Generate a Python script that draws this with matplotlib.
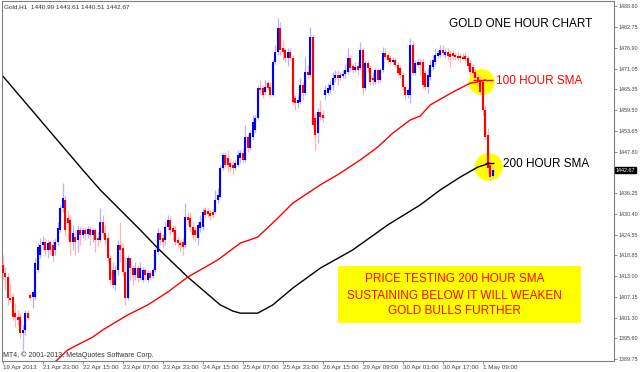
import numpy as np
import matplotlib
matplotlib.use("Agg")
import matplotlib.pyplot as plt
from matplotlib.patches import Ellipse, Rectangle
from matplotlib.transforms import blended_transform_factory

plt.rcParams["font.family"] = ["Liberation Sans", "DejaVu Sans"]

# Gold H1 bars, 19 Apr 2013 -> 1 May 2013
opens = [
    1416.1, 1413.8, 1412.7, 1406.9, 1407.1, 1402.6, 1401.5, 1401.5, 1397.0, 1397.9,
    1402.6, 1407.7, 1407.1, 1407.1, 1414.7, 1418.9, 1421.7, 1422.5, 1420.3, 1422.5,
    1421.7, 1420.3, 1422.5, 1425.9, 1432.0, 1434.3, 1429.2, 1428.7, 1422.5, 1423.9,
    1423.1, 1425.9, 1424.5, 1425.9, 1424.8, 1426.2, 1424.5, 1425.9, 1423.6, 1423.1,
    1428.1, 1425.0, 1423.6, 1418.0, 1414.7, 1410.5, 1414.7, 1421.7, 1420.8, 1414.1,
    1406.9, 1418.0, 1415.2, 1413.3, 1415.2, 1412.4, 1411.9, 1414.7, 1411.9, 1413.8,
    1413.0, 1414.7, 1419.7, 1425.0, 1423.6, 1423.1, 1426.7, 1428.7, 1426.4, 1425.9,
    1423.1, 1422.2, 1422.5, 1421.7, 1429.5, 1429.2, 1426.7, 1425.9, 1423.6, 1426.4,
    1426.7, 1431.5, 1431.2, 1430.6, 1430.9, 1430.9, 1434.3, 1435.1, 1443.2, 1446.9,
    1446.0, 1444.6, 1444.1, 1443.2, 1444.1, 1446.0, 1447.4, 1445.5, 1451.9, 1448.8,
    1451.9, 1453.9, 1457.2, 1465.6, 1465.6, 1464.5, 1467.0, 1465.9, 1463.7, 1472.9,
    1475.7, 1482.4, 1476.8, 1476.3, 1474.0, 1475.7, 1474.0, 1462.8, 1461.4, 1461.7,
    1466.5, 1464.2, 1470.1, 1469.3, 1479.9, 1457.2, 1453.0, 1458.9, 1458.1, 1463.7,
    1464.2, 1465.1, 1466.5, 1468.4, 1469.3, 1468.4, 1469.0, 1469.6, 1470.1, 1474.0,
    1471.8, 1470.7, 1471.8, 1471.3, 1476.3, 1465.6, 1472.6, 1471.3, 1468.4, 1467.3,
    1470.7, 1467.9, 1470.7, 1475.4, 1474.9, 1474.0, 1472.9, 1473.5, 1472.1, 1471.3,
    1469.3, 1465.9, 1463.7, 1463.7, 1477.7, 1469.8, 1472.1, 1472.9, 1472.9, 1469.8,
    1465.9, 1468.7, 1471.5, 1472.9, 1474.6, 1474.9, 1476.3, 1474.9, 1475.7, 1475.2,
    1475.4, 1474.9, 1474.6, 1474.6, 1474.3, 1474.6, 1474.0, 1472.6, 1471.5, 1470.1,
    1468.7, 1467.9, 1467.3, 1459.5, 1452.5, 1444.1, 1440.99,
]
highs = [
    1418.9, 1415.5, 1413.8, 1411.0, 1408.2, 1405.4, 1403.5, 1402.6, 1399.3, 1403.5,
    1403.5, 1408.2, 1409.1, 1418.0, 1422.2, 1423.6, 1424.2, 1423.6, 1423.1, 1423.1,
    1423.1, 1423.6, 1428.1, 1432.9, 1439.0, 1435.7, 1431.5, 1430.1, 1427.3, 1425.9,
    1427.3, 1427.0, 1426.4, 1426.4, 1427.0, 1427.0, 1426.4, 1426.4, 1425.3, 1432.0,
    1430.1, 1427.3, 1425.3, 1418.9, 1416.9, 1416.1, 1423.1, 1428.1, 1422.2, 1418.3,
    1418.9, 1418.3, 1416.1, 1416.9, 1416.1, 1416.9, 1415.5, 1415.2, 1414.7, 1414.7,
    1415.2, 1420.8, 1426.4, 1425.9, 1424.8, 1428.1, 1430.1, 1429.8, 1427.3, 1427.3,
    1424.2, 1423.1, 1423.6, 1433.4, 1430.9, 1430.9, 1428.1, 1427.0, 1428.1, 1430.1,
    1432.0, 1432.3, 1432.0, 1431.5, 1431.8, 1437.1, 1437.6, 1444.1, 1447.4, 1447.7,
    1448.3, 1446.0, 1445.5, 1445.5, 1448.3, 1448.3, 1448.8, 1455.3, 1452.8, 1453.9,
    1458.1, 1458.1, 1466.5, 1467.9, 1466.5, 1467.9, 1467.9, 1467.3, 1473.5, 1477.7,
    1485.2, 1484.1, 1479.1, 1476.8, 1476.8, 1476.8, 1474.9, 1463.7, 1463.7, 1468.4,
    1467.3, 1474.3, 1472.1, 1482.7, 1480.5, 1458.9, 1460.0, 1462.3, 1459.5, 1466.5,
    1467.0, 1467.9, 1470.1, 1470.7, 1470.7, 1470.1, 1470.7, 1472.4, 1476.8, 1474.9,
    1472.4, 1472.9, 1472.9, 1478.5, 1476.8, 1473.5, 1473.5, 1472.1, 1470.1, 1471.3,
    1471.3, 1471.3, 1477.1, 1476.8, 1475.7, 1474.9, 1474.3, 1474.0, 1472.9, 1472.1,
    1470.1, 1466.5, 1465.6, 1479.6, 1478.5, 1473.5, 1474.0, 1474.0, 1474.0, 1470.7,
    1471.3, 1473.5, 1474.9, 1476.8, 1476.3, 1477.7, 1477.7, 1476.8, 1476.8, 1476.3,
    1476.3, 1475.7, 1475.7, 1475.4, 1475.4, 1475.7, 1474.9, 1473.5, 1472.4, 1471.3,
    1469.8, 1469.3, 1468.4, 1460.9, 1454.4, 1445.5, 1443.61,
]
lows = [
    1411.9, 1409.1, 1404.9, 1405.7, 1400.7, 1398.7, 1399.3, 1395.6, 1392.3, 1396.5,
    1400.7, 1406.3, 1404.0, 1406.3, 1414.1, 1418.0, 1420.3, 1418.6, 1418.0, 1418.9,
    1416.9, 1418.9, 1421.7, 1425.3, 1430.9, 1424.5, 1423.1, 1418.9, 1420.3, 1418.9,
    1419.7, 1421.7, 1423.6, 1423.1, 1423.6, 1421.7, 1422.5, 1419.7, 1421.4, 1422.5,
    1423.6, 1421.7, 1416.9, 1410.5, 1409.6, 1409.1, 1413.3, 1416.9, 1413.0, 1404.9,
    1406.3, 1411.9, 1410.5, 1411.9, 1411.3, 1411.9, 1411.3, 1411.9, 1411.3, 1411.9,
    1412.4, 1414.1, 1418.9, 1421.7, 1420.8, 1421.7, 1425.9, 1424.5, 1423.1, 1421.7,
    1420.8, 1419.7, 1418.9, 1420.8, 1427.3, 1425.3, 1423.1, 1422.5, 1421.7, 1425.3,
    1425.9, 1429.2, 1429.5, 1428.7, 1429.2, 1430.6, 1433.4, 1434.9, 1442.7, 1443.2,
    1442.1, 1442.1, 1441.6, 1442.7, 1443.5, 1444.6, 1444.6, 1444.9, 1447.7, 1448.3,
    1451.1, 1453.0, 1456.7, 1463.7, 1462.8, 1463.7, 1465.1, 1463.1, 1463.4, 1472.4,
    1474.9, 1474.9, 1473.5, 1472.9, 1471.8, 1473.5, 1460.9, 1459.5, 1460.0, 1461.4,
    1462.3, 1463.7, 1468.4, 1468.7, 1453.9, 1448.3, 1450.2, 1456.7, 1456.1, 1462.3,
    1463.7, 1464.2, 1465.1, 1467.3, 1466.5, 1467.9, 1468.4, 1468.4, 1469.6, 1470.1,
    1469.8, 1470.1, 1469.3, 1470.7, 1463.7, 1465.1, 1470.1, 1466.5, 1466.5, 1466.8,
    1467.0, 1467.3, 1470.1, 1473.5, 1472.6, 1472.1, 1472.4, 1471.5, 1469.3, 1468.4,
    1465.1, 1462.3, 1462.8, 1461.4, 1469.3, 1469.3, 1471.8, 1469.3, 1465.6, 1465.1,
    1464.2, 1467.9, 1470.7, 1472.1, 1474.0, 1474.3, 1474.6, 1474.0, 1473.5, 1471.5,
    1473.5, 1473.5, 1473.5, 1472.9, 1473.5, 1472.9, 1470.7, 1469.3, 1468.7, 1467.9,
    1466.5, 1463.7, 1458.1, 1451.1, 1442.1, 1439.9, 1440.51,
]
closes = [
    1413.8, 1412.7, 1406.9, 1406.3, 1401.5, 1401.5, 1400.7, 1397.0, 1397.9, 1402.6,
    1401.2, 1406.9, 1408.5, 1416.6, 1421.1, 1421.7, 1422.5, 1420.3, 1422.2, 1420.3,
    1418.6, 1422.5, 1426.4, 1432.0, 1434.9, 1425.9, 1427.9, 1422.5, 1425.0, 1422.5,
    1425.9, 1424.5, 1425.9, 1424.8, 1426.2, 1424.5, 1425.9, 1423.1, 1423.1, 1428.1,
    1425.0, 1423.1, 1418.0, 1411.9, 1410.5, 1414.7, 1421.7, 1420.3, 1414.1, 1406.9,
    1418.0, 1415.2, 1413.3, 1415.2, 1412.4, 1415.2, 1414.7, 1413.3, 1413.8, 1412.4,
    1414.7, 1420.3, 1425.0, 1423.1, 1422.5, 1426.7, 1428.7, 1425.9, 1425.3, 1422.5,
    1422.2, 1421.7, 1421.1, 1429.5, 1428.7, 1426.7, 1424.5, 1424.5, 1427.3, 1428.1,
    1430.9, 1430.1, 1430.4, 1429.8, 1430.1, 1434.3, 1435.7, 1443.2, 1446.9, 1444.1,
    1444.1, 1443.5, 1443.2, 1444.6, 1446.9, 1447.4, 1445.5, 1451.9, 1448.8, 1453.0,
    1456.1, 1457.2, 1465.6, 1465.1, 1463.7, 1465.9, 1465.6, 1463.7, 1472.9, 1475.7,
    1482.4, 1476.3, 1475.7, 1474.0, 1475.7, 1474.0, 1461.7, 1461.4, 1462.3, 1466.5,
    1464.2, 1470.1, 1469.3, 1479.9, 1455.3, 1452.5, 1458.9, 1457.5, 1457.2, 1465.1,
    1465.6, 1466.5, 1468.4, 1469.3, 1468.4, 1469.3, 1469.6, 1470.7, 1474.0, 1471.3,
    1470.7, 1471.5, 1470.7, 1476.3, 1465.6, 1472.6, 1471.3, 1467.3, 1467.9, 1470.7,
    1467.9, 1470.7, 1475.4, 1474.3, 1473.5, 1472.9, 1473.5, 1472.1, 1469.8, 1469.3,
    1465.9, 1463.7, 1465.1, 1477.7, 1469.8, 1472.6, 1472.9, 1472.1, 1466.5, 1465.9,
    1469.3, 1472.1, 1473.5, 1474.9, 1475.4, 1476.3, 1475.4, 1475.7, 1474.6, 1474.3,
    1474.6, 1474.3, 1474.0, 1474.0, 1473.8, 1473.8, 1471.8, 1470.1, 1469.8, 1468.4,
    1467.3, 1464.5, 1459.5, 1451.9, 1443.2, 1440.7, 1442.67,
]

# moving averages, vertices read at bar positions
sma200_bar = [0, 32, 39, 55, 62, 74, 80, 87, 92, 95, 102, 108, 116, 127, 140,
              154, 167, 175, 183, 190, 195]
sma200 = [1469.0, 1442.7, 1437.1, 1425.9, 1420.8, 1412.7, 1409.1, 1404.9, 1403.2,
          1402.6, 1402.6, 1404.9, 1409.6, 1415.2, 1420.3, 1427.3, 1432.9, 1437.1,
          1440.7, 1443.5, 1444.6]
sma100_bar = [21, 26, 36, 40, 50, 58, 66, 74, 86, 95, 102, 110, 116, 127, 135,
              143, 150, 156, 163, 167, 171, 180, 187, 190, 193]
sma100 = [1389.0, 1392.3, 1395.9, 1397.9, 1402.1, 1404.9, 1408.5, 1412.7, 1417.5,
          1422.2, 1423.9, 1429.2, 1433.4, 1438.5, 1441.8, 1445.5, 1449.1, 1453.0,
          1456.7, 1457.8, 1460.9, 1464.5, 1467.0, 1467.3, 1467.9]

x_tick_bars = [0, 16, 32, 48, 64, 80, 96, 112, 128, 144, 160, 176, 192]
x_tick_labels = ["19 Apr 2013", "21 Apr 23:00", "22 Apr 15:00", "23 Apr 07:00",
                 "23 Apr 23:00", "24 Apr 15:00", "25 Apr 07:00", "25 Apr 23:00",
                 "26 Apr 15:00", "29 Apr 09:00", "30 Apr 01:00", "30 Apr 17:00",
                 "1 May 09:00"]
y_tick_labels = ["1488.60", "1482.75", "1476.90", "1471.05", "1465.35", "1459.50",
                 "1453.65", "1447.80", "1436.25", "1430.40", "1424.55", "1418.85",
                 "1413.00", "1407.15", "1401.30", "1395.60", "1389.75"]

header = "Gold,H1  1440.99 1443.61 1440.51 1442.67"
box_lines = ["PRICE TESTING 200 HOUR SMA",
             "SUSTAINING BELOW IT WILL WEAKEN",
             "GOLD BULLS FURTHER"]

o, h, l, c = (np.asarray(a) for a in (opens, highs, lows, closes))
assert len(o) == len(h) == len(l) == len(c)
bars = np.arange(len(c))
up = c >= o

fig = plt.figure(figsize=(6.4, 3.72), dpi=100)
ax = fig.add_axes([2 / 640, 11 / 372, 612 / 640, 360 / 372])
ax.set_xlim(-0.3, 244.5)
ax.set_ylim(1389.2, 1490.0)

# yellow highlight circles (behind everything)
ax.add_patch(Ellipse((191.6, 1467.3), 26 / 2.5, 26 * 0.28, color="#ffff00", lw=0, zorder=1))
ax.add_patch(Ellipse((194.4, 1443.5), 28 / 2.5, 28 * 0.28, color="#ffff00", lw=0, zorder=1))

ax.plot(sma200_bar, sma200, color="black", lw=1.0, zorder=2)
ax.plot(sma100_bar, sma100, color="#ff0000", lw=1.0, zorder=2)

# candles: light wicks, solid bodies
wick_col = np.where(up, "#b4b4ff", "#ffb4b4")
body_col = np.where(up, "#0000ff", "#ff0000")
ax.vlines(bars, l, h, colors=wick_col, lw=0.9, zorder=3)
bot = np.minimum(o, c)
top = np.maximum(np.maximum(o, c), bot + 0.35)
ax.vlines(bars, bot, top, colors=body_col, lw=1.5, zorder=4)

# cross marks in the circles
ax.hlines(sma100[-1], 188, 196, color="#ff0000", lw=1.0, zorder=5)
ax.hlines(sma200[-1], 193, 196.5, color="black", lw=1.0, zorder=5)

# annotations
ax.text(0.730, 0.936, "GOLD ONE HOUR CHART", transform=ax.transAxes,
        fontsize=8.5, color="black", va="center", ha="left")
ax.text(0.807, 0.778, "100 HOUR SMA", transform=ax.transAxes,
        fontsize=8.5, color="#ff0000", va="center", ha="left")
ax.text(0.819, 0.547, "200 HOUR SMA", transform=ax.transAxes,
        fontsize=8.5, color="black", va="center", ha="left")
ax.add_patch(Rectangle((0.549, 0.106), 0.397, 0.158, transform=ax.transAxes,
                       color="#ffff00", lw=0, zorder=1))
for txt, yy in zip(box_lines, [0.228, 0.181, 0.139]):
    ax.text(0.740, yy, txt, transform=ax.transAxes, fontsize=8.5,
            color="#ff0000", ha="center", va="center", zorder=6)

ax.text(0.004, 0.983, header, transform=ax.transAxes, fontsize=4.6,
        color="#333333", va="center", ha="left")
ax.text(0.002, 0.017, "MT4, \u00a9 2001-2013, MetaQuotes Software Corp.",
        transform=ax.transAxes, fontsize=5.0, color="#333333", va="center", ha="left")

# axes styling, MT4 look
for sp in ax.spines.values():
    sp.set_color("#808080")
    sp.set_linewidth(0.8)
ax.yaxis.tick_right()
ax.set_yticks([float(t) for t in y_tick_labels])
ax.set_yticklabels(y_tick_labels)
ax.set_xticks(x_tick_bars)
ax.set_xticklabels(x_tick_labels)
for lab in ax.get_xticklabels():
    lab.set_horizontalalignment("left")
ax.tick_params(axis="y", length=2, width=0.6, color="#808080", labelsize=3.9,
               pad=1.0, labelcolor="#444444")
ax.tick_params(axis="x", length=2, width=0.6, color="#808080", labelsize=4.5,
               pad=1.0, labelcolor="#444444")

# current price label
trans = blended_transform_factory(ax.transAxes, ax.transData)
ax.text(1.003, c[-1], f"{c[-1]:.2f}", transform=trans, fontsize=3.9, color="white",
        va="center", ha="left", clip_on=False,
        bbox=dict(boxstyle="square,pad=0.15", fc="black", ec="black"))

fig.savefig("out.png", dpi=100, facecolor="white")
